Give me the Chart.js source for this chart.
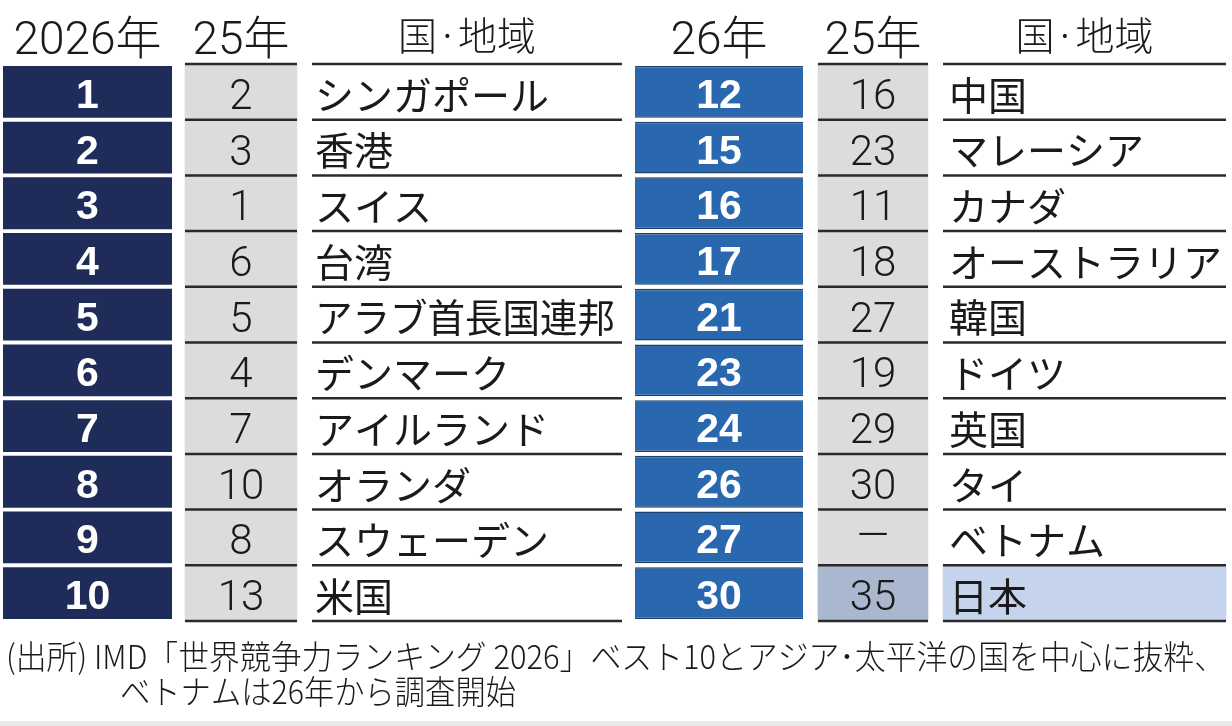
<!DOCTYPE html>
<html lang="ja">
<head>
<meta charset="utf-8">
<title>IMD 世界競争力ランキング 2026</title>
<script src="https://cdn.jsdelivr.net/npm/chart.js@4.4.1/dist/chart.umd.min.js"></script>
<style>
    html, body { margin: 0; padding: 0; background: #ffffff; }
    #wrap { position: relative; width: 1232px; height: 726px; }
</style>
</head>
<body>
<div id="wrap"><canvas id="rankChart"></canvas></div>
<script>
// Ranking data
const headers = ['2026年', '25年', '国·地域', '26年', '25年', '国·地域'];
const rank26Top = [1, 2, 3, 4, 5, 6, 7, 8, 9, 10];
const rank25Top = [2, 3, 1, 6, 5, 4, 7, 10, 8, 13];
const countriesTop = ['シンガポール', '香港', 'スイス', '台湾', 'アラブ首長国連邦', 'デンマーク', 'アイルランド', 'オランダ', 'スウェーデン', '米国'];
const rank26Asia = [12, 15, 16, 17, 21, 23, 24, 26, 27, 30];
const rank25Asia = [16, 23, 11, 18, 27, 19, 29, 30, null, 35];
const countriesAsia = ['中国', 'マレーシア', 'カナダ', 'オーストラリア', '韓国', 'ドイツ', '英国', 'タイ', 'ベトナム', '日本'];
const highlightCountry = '日本';
const footnotes = [
    '(出所) IMD「世界競争力ランキング 2026」ベスト10とアジア･太平洋の国を中心に抜粋、',
    'ベトナムは26年から調査開始'
];

// Layout (pixels of the 1232 x 726 picture)
const colLeft = [3, 185, 312, 635, 818, 943];
const colRight = [172, 297, 622, 803, 928, 1226];
const colors = {
    navy: '#1f2c59',
    blue: '#2967ae',
    blueEdge: '#1c3f6c',
    gray: '#dcdcdc',
    grayHi: '#a9b8cf',
    countryHi: '#c5d4ec',
    line: '#2a2a2a',
    text: '#1a1a1a'
};
const NUM_FONT = '"Liberation Sans", "Noto Sans CJK JP", sans-serif';
const LIGHT_NUM_FONT = 'Roboto, "Liberation Sans", "Noto Sans CJK JP", sans-serif';
const JP_FONT = '"Noto Sans CJK JP", "Noto Sans", sans-serif';

function cellSpan(col) {
    return [colLeft[col], colRight[col]];
}
function mid(col) {
    return (colLeft[col] + colRight[col]) / 2;
}

const tablePlugin = {
    id: 'tablePlugin',
    beforeDraw(chart) {
        const ctx = chart.ctx;
        ctx.save();
        ctx.fillStyle = '#ffffff';
        ctx.fillRect(0, 0, chart.width, chart.height);
        ctx.restore();
    },
    afterDatasetsDraw(chart) {
        const ctx = chart.ctx;
        const x = chart.scales.x;
        const y = chart.scales.y;
        const pitch = y.getPixelForValue(1) - y.getPixelForValue(0);
        ctx.save();

        // header
        ctx.fillStyle = colors.text;
        ctx.textAlign = 'center';
        ctx.textBaseline = 'alphabetic';
        headers.forEach((h, c) => {
            const jp = h.indexOf('国') >= 0;
            ctx.font = jp ? '300 39px ' + JP_FONT : '300 46px ' + LIGHT_NUM_FONT;
            ctx.fillText(h, x.getPixelForValue(mid(c)), jp ? 50 : 54);
        });

        // row separator lines for columns 2,3,5,6
        ctx.strokeStyle = colors.line;
        ctx.lineWidth = 2.5;
        [1, 2, 4, 5].forEach(c => {
            for (let i = 0; i <= rank26Top.length; i++) {
                const yy = y.getPixelForValue(i) - pitch / 2;
                ctx.beginPath();
                ctx.moveTo(x.getPixelForValue(colLeft[c]), yy);
                ctx.lineTo(x.getPixelForValue(colRight[c]), yy);
                ctx.stroke();
            }
        });

        // cell text
        rank26Top.forEach((r, i) => {
            const yc = y.getPixelForValue(i);
            ctx.textAlign = 'center';
            ctx.textBaseline = 'alphabetic';
            ctx.fillStyle = '#ffffff';
            ctx.font = '700 41px ' + NUM_FONT;
            ctx.fillText(String(r), x.getPixelForValue(mid(0)), yc + 16);
            ctx.fillText(String(rank26Asia[i]), x.getPixelForValue(mid(3)), yc + 16);

            ctx.fillStyle = colors.text;
            ctx.font = '300 42px ' + LIGHT_NUM_FONT;
            ctx.fillText(String(rank25Top[i]), x.getPixelForValue(mid(1)), yc + 17);
            const prev = rank25Asia[i];
            ctx.fillText(prev === null ? '—' : String(prev), x.getPixelForValue(mid(4)), prev === null ? yc + 12 : yc + 17);

            ctx.textAlign = 'left';
            ctx.textBaseline = 'middle';
            ctx.font = '400 39px ' + JP_FONT;
            ctx.fillText(countriesTop[i], x.getPixelForValue(colLeft[2] + 3), yc + 3, 300);
            ctx.fillText(countriesAsia[i], x.getPixelForValue(colLeft[5] + 6), yc + 3, 278);
        });

        // footnote
        ctx.fillStyle = colors.text;
        ctx.textAlign = 'left';
        ctx.textBaseline = 'middle';
        ctx.font = '300 33px ' + JP_FONT;
        ctx.fillText(footnotes[0], 6, 656, 1219);
        ctx.fillText(footnotes[1], 120, 691, 396);

        // bottom band
        ctx.fillStyle = '#e9e9e9';
        ctx.fillRect(0, 721, chart.width, 5);
        ctx.restore();
    }
};

const rowLabels = rank26Top.map(String);

new Chart(document.getElementById('rankChart'), {
    type: 'bar',
    data: {
        labels: rowLabels,
        datasets: [
            {
                label: '2026年',
                data: rank26Top.map(() => cellSpan(0)),
                backgroundColor: colors.navy,
                borderWidth: 0,
                barPercentage: 0.93
            },
            {
                label: '25年',
                data: rank25Top.map(() => cellSpan(1)),
                backgroundColor: colors.gray,
                borderWidth: 0,
                barPercentage: 1
            },
            {
                label: '26年',
                data: rank26Asia.map(() => cellSpan(3)),
                backgroundColor: colors.blue,
                borderColor: colors.blueEdge,
                borderWidth: { top: 1.5, bottom: 1.5, left: 0, right: 0 },
                borderSkipped: false,
                barPercentage: 0.93
            },
            {
                label: '25年 (アジア)',
                data: rank25Asia.map(() => cellSpan(4)),
                backgroundColor: countriesAsia.map(c => c === highlightCountry ? colors.grayHi : colors.gray),
                borderWidth: 0,
                barPercentage: 1
            },
            {
                label: '国·地域 (アジア)',
                data: countriesAsia.map(() => cellSpan(5)),
                backgroundColor: countriesAsia.map(c => c === highlightCountry ? colors.countryHi : 'rgba(0,0,0,0)'),
                borderWidth: 0,
                barPercentage: 1
            }
        ]
    },
    options: {
        indexAxis: 'y',
        responsive: true,
        maintainAspectRatio: false,
        animation: false,
        layout: {
            padding: { top: 64, bottom: 105, left: 0, right: 0 }
        },
        datasets: {
            bar: {
                grouped: false,
                categoryPercentage: 1
            }
        },
        plugins: {
            legend: { display: false },
            tooltip: { enabled: false }
        },
        scales: {
            x: {
                type: 'linear',
                min: 0,
                max: 1232,
                display: false
            },
            y: {
                type: 'category',
                display: false,
                grid: { display: false }
            }
        }
    },
    plugins: [tablePlugin]
});
</script>
</body>
</html>
